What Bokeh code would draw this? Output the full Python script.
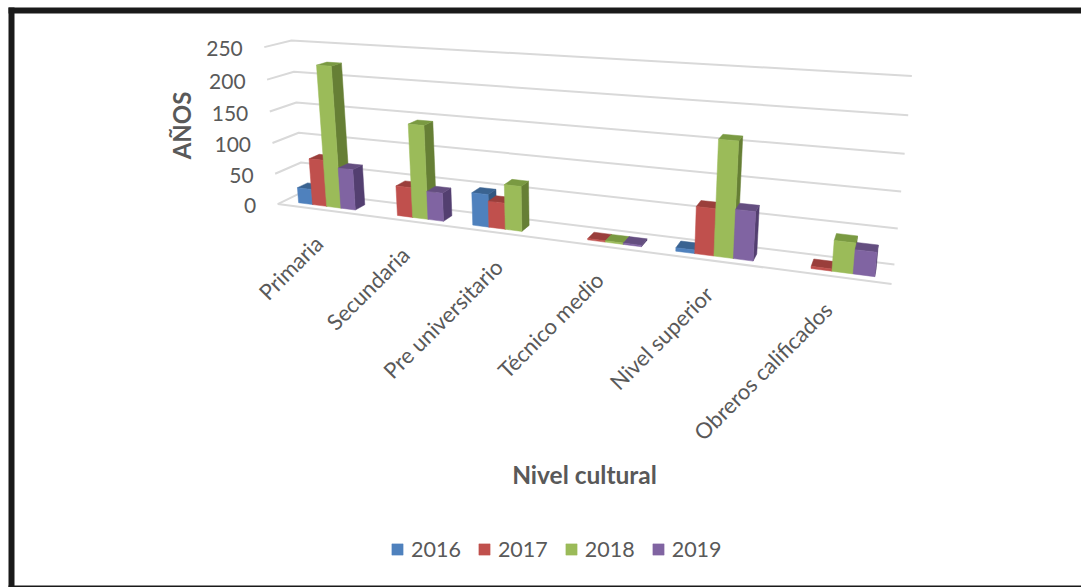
import numpy as np
from bokeh.core.properties import value
from bokeh.embed import file_html
from bokeh.models import Legend, LegendItem
from bokeh.plotting import figure
from bokeh.resources import INLINE

categories = ["Primaria", "Secundaria", "Pre universitario", "Técnico medio", "Nivel superior", "Obreros calificados"]
series_names = ["2016", "2017", "2018", "2019"]
v2016 = [25, 0, 50, 0, 5, 0]
v2017 = [75, 47, 40, 2, 67, 3]
v2018 = [224, 145, 68, 2, 162, 42]
v2019 = [65, 44, 0, 2, 69, 33]
series_values = [v2016, v2017, v2018, v2019]
y_ticks = [0, 50, 100, 150, 200, 250]
front_colors = ["#4F81BD", "#C0504D", "#9BBB59", "#8064A2"]
top_colors = ["#3A6391", "#9A3E3B", "#7A9A42", "#644E80"]
side_colors = ["#335780", "#83322F", "#667F35", "#533F70"]
GRID = "#D9D9D9"
TEXT = "#595959"
FONT = "Lato"

calib = [
    ((0, 0, 0), (278, 204)), ((6, 0, 0), (891, 283)),
    ((0, 1, 0), (302, 190)), ((6, 1, 0), (894, 264)),
    ((0, 0, 250), (263, 46)), ((0, 1, 250), (292, 40)),
    ((6, 1, 250), (911, 75)), ((0, 1, 100), (298, 133)),
    ((6, 1, 100), (901, 192)), ((0, 0, 100), (272, 143)),
]
A = []
for (X, Z, V), (sx, sy) in calib:
    h = [X, Z, V / 100, 1]
    A.append(h + [0, 0, 0, 0] + [-sx * c for c in h])
    A.append([0, 0, 0, 0] + h + [-sy * c for c in h])
_, _, vt = np.linalg.svd(np.array(A, float))
P = vt[-1].reshape(3, 4)


def proj(X, Z, V):
    q = P @ np.array([X, Z, V / 100, 1.0])
    return q[0] / q[2], q[1] / q[2]


def face(points):
    pts = [proj(*c) for c in points]
    return [c[0] for c in pts], [c[1] for c in pts]


p = figure(width=1081, height=587, x_range=(0, 1081), y_range=(587, 0),
           output_backend="svg", toolbar_location=None, min_border=0)
p.axis.visible = False
p.grid.visible = False
p.outline_line_color = None
p.background_fill_color = "white"

# frame of the picture
p.quad(left=[8, 8, 8], right=[14, 1081, 1081], top=[7, 7, 585], bottom=[587, 13, 587],
       fill_color="#1A1A1A", line_color=None)

# gridlines
for v in y_ticks:
    a, b, c = proj(0, 0, v), proj(0, 1, v), proj(6, 1, v)
    p.line([a[0], b[0], c[0]], [a[1], b[1], c[1]], line_color=GRID, line_width=2)
a, b = proj(0, 0, 0), proj(6, 0, 0)
p.line([a[0], b[0]], [a[1], b[1]], line_color=GRID, line_width=2)

# bars
BAR = 0.171
SHIFT = 0.02
Z0, Z1 = 0.25, 0.65
items = []
for s, vals in enumerate(series_values):
    fr, si, to = ([], []), ([], []), ([], [])
    for i, v in enumerate(vals):
        if v <= 0:
            continue
        x0 = i + 0.5 + SHIFT + (s - 2) * BAR
        x1 = x0 + BAR
        for store, pts in (
            (si, [(x1, Z0, 0), (x1, Z1, 0), (x1, Z1, v), (x1, Z0, v)]),
            (to, [(x0, Z0, v), (x1, Z0, v), (x1, Z1, v), (x0, Z1, v)]),
            (fr, [(x0, Z0, 0), (x1, Z0, 0), (x1, Z0, v), (x0, Z0, v)]),
        ):
            xs, ys = face(pts)
            store[0].append(xs)
            store[1].append(ys)
    p.patches(si[0], si[1], fill_color=side_colors[s], line_color=side_colors[s], line_width=0.5)
    p.patches(to[0], to[1], fill_color=top_colors[s], line_color=top_colors[s], line_width=0.5)
    r = p.patches(fr[0], fr[1], fill_color=front_colors[s], line_color=front_colors[s], line_width=0.5)
    items.append(LegendItem(label=series_names[s], renderers=[r]))

# value tick labels
for v in y_ticks:
    x, y = proj(0, 0, v)
    p.text([x - 21.5], [y + 1.5], text=[str(v)], text_align="right", text_baseline="middle",
           text_font=value(FONT), text_font_size="21px", text_color=TEXT)

# category labels
for i, c in enumerate(categories):
    x, y = proj(i + 0.5, 0, 0)
    p.text([x], [y + 30], text=[c], text_align="right", text_baseline="middle", angle=45,
           angle_units="deg", text_font=value(FONT), text_font_size="22px", text_color=TEXT)

# axis titles
p.text([181], [125], text=["AÑOS"], text_align="center", text_baseline="middle", angle=90,
       angle_units="deg", text_font=value(FONT), text_font_style="bold", text_font_size="24px", text_color=TEXT)
p.text([584], [474], text=["Nivel cultural"], text_align="center", text_baseline="middle",
       text_font=value(FONT), text_font_style="bold", text_font_size="24.5px", text_color=TEXT)

legend = Legend(items=items, orientation="horizontal", location=(390, 25), border_line_color=None,
                background_fill_alpha=0, glyph_width=14, glyph_height=14, label_standoff=7,
                spacing=16, padding=10, label_text_font=FONT, label_text_font_size="21.5px",
                label_text_color=TEXT)
p.add_layout(legend, "center")

open("out.html", "w").write(file_html(p, INLINE))
